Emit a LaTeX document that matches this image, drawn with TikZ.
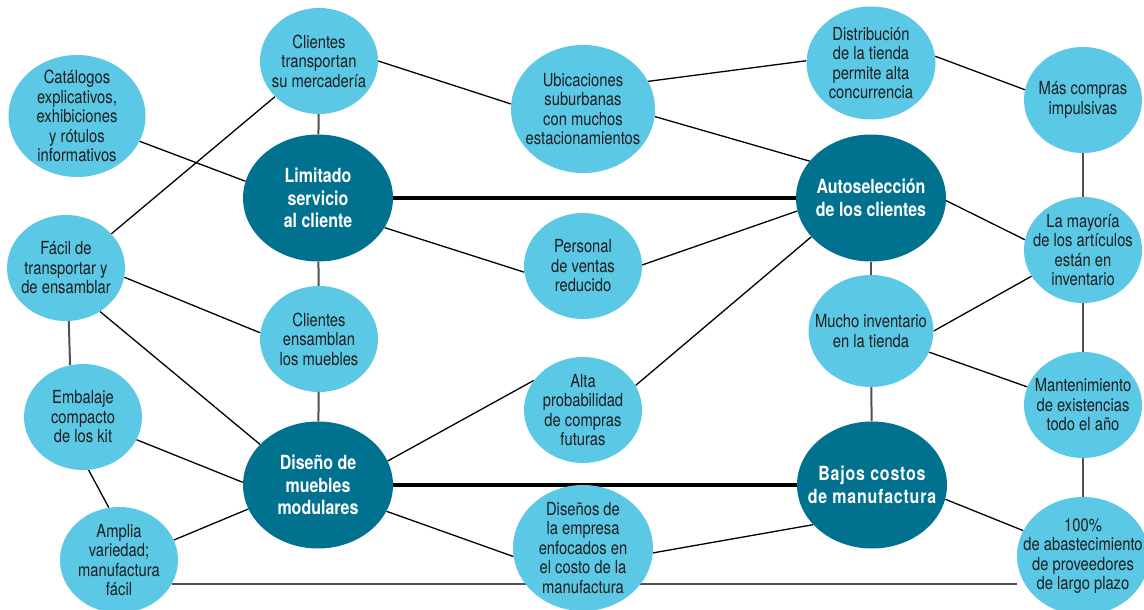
\documentclass[tikz,border=0pt]{standalone}
\usepackage{fontspec}
\setmainfont{TeX Gyre Heros}[FakeStretch=0.82]
\usepackage{tikz}
\usetikzlibrary{shapes}
\usetikzlibrary{backgrounds}
\definecolor{bubblefill}{RGB}{91,200,230}
\definecolor{hubfill}{RGB}{0,113,143}
\definecolor{ink}{RGB}{30,30,30}
\definecolor{stemgray}{RGB}{80,80,80}
\tikzset{
  bubble/.style={
    ellipse,fill=bubblefill,text=ink,align=center,
    inner xsep=-18pt,inner ysep=-12pt,
    minimum width=118pt,minimum height=106pt,
    font=\fontsize{18pt}{19.5pt}\selectfont,
  },
  hub/.style={
    ellipse,fill=hubfill,text=white,align=center,
    inner xsep=-18pt,inner ysep=-12pt,
    minimum width=150pt,minimum height=127pt,
    font=\bfseries\fontsize{19.5pt}{22.5pt}\selectfont,
  },
  link/.style={draw=black,line width=1.3pt},
  stemline/.style={draw=stemgray,line width=2pt},
  trunk/.style={draw=black,line width=4pt},
}

\begin{document}
\begin{tikzpicture}[x=1pt,y=-1pt]
    \useasboundingbox (0,0) rectangle (1144,610);
    % left column
    \node[bubble,minimum width=137pt,minimum height=122pt] (catalogos) at (77,116)
        {Catálogos\\explicativos,\\exhibiciones\\y rótulos\\informativos};
    \node[bubble] (facil) at (66,268) {Fácil de\\transportar y\\de ensamblar};
    \node[bubble] (embalaje) at (83,417) {Embalaje\\compacto\\de los kit};
    \node[bubble] (amplia) at (119,560) {Amplia\\variedad;\\manufactura\\fácil};
    % second column
    \node[bubble] (transportan) at (319,61) {Clientes\\transportan\\su mercadería};
    \node[hub] (limitado) at (318,198) {Limitado\\servicio\\al cliente};
    \node[bubble] (ensamblan) at (319,339) {Clientes\\ensamblan\\los muebles};
    \node[hub] (modulares) at (318,485) {Diseño de\\muebles\\modulares};
    % middle column
    \node[bubble,minimum width=144pt,minimum height=128pt] (ubicaciones) at (583,109)
        {Ubicaciones\\suburbanas\\con muchos\\estacionamientos};
    \node[bubble] (personal) at (583,266) {Personal\\de ventas\\reducido};
    \node[bubble] (futuras) at (583,410) {Alta\\probabilidad\\de compras\\futuras};
    \node[bubble,minimum width=140pt,minimum height=126pt] (enfocados) at (583,548)
        {Diseños de\\la empresa\\enfocados en\\el costo de la\\manufactura};
    % fourth column
    \node[bubble,minimum width=129pt,minimum height=113pt] (distribucion) at (871,63)
        {Distribución\\de la tienda\\permite alta\\concurrencia};
    \node[hub] (autoseleccion) at (871,198) {Autoselección\\de los clientes};
    \node[bubble,minimum width=125pt,minimum height=112pt] (inventario) at (871,331)
        {Mucho inventario\\en la tienda};
    \node[hub,font=\bfseries\fontsize{19.5pt}{22.5pt}\selectfont\addfontfeature{LetterSpace=4}]
        (costos) at (872,485) {Bajos costos\\de manufactura};
    % right column
    \node[bubble] (impulsivas) at (1083,100) {Más compras\\impulsivas};
    \node[bubble] (mayoria) at (1083,250) {La mayoría\\de los artículos\\están en\\inventario};
    \node[bubble] (existencias) at (1083,405) {Mantenimiento\\de existencias\\todo el año};
    \node[bubble,minimum width=132pt,minimum height=118pt] (proveedores) at (1083,556)
        {100\%\\de abastecimiento\\de proveedores\\de largo plazo};
    % connections
    \begin{scope}[on background layer]
        \draw[trunk] (limitado) -- (autoseleccion);
        \draw[trunk] (modulares) -- (costos);
        \draw[stemline] (transportan) -- (limitado);
        \draw[stemline] (limitado) -- (ensamblan);
        \draw[stemline] (modulares) -- (ensamblan);
        \draw[stemline] (impulsivas) -- (mayoria);
        \draw[stemline] (mayoria) -- (existencias);
        \draw[stemline] (existencias) -- (proveedores);
        \draw[stemline] (autoseleccion) -- (inventario);
        \draw[stemline] (inventario) -- (costos);
        \draw[stemline] (facil.-87) -- (embalaje.104);
        \draw[stemline] (amplia.-24) -- (amplia.-24 -| proveedores.west);
        \draw[link] (catalogos.-22) -- (limitado.167);
        \draw[link] (transportan.0) -- (ubicaciones.176);
        \draw[link] (facil.37) -- (transportan.-141);
        \draw[link] (limitado.-24) -- (personal.186);
        \draw[link] (ubicaciones.23) -- (distribucion.178);
        \draw[link] (ubicaciones.-6) -- (autoseleccion.149);
        \draw[link] (distribucion.6) -- (impulsivas.170);
        \draw[link] (autoseleccion.-2) -- (mayoria.170);
        \draw[link] (autoseleccion.190) -- (personal.1);
        \draw[link] (autoseleccion.213) -- (futuras.25);
        \draw[link] (inventario.0) -- (mayoria.207);
        \draw[link] (inventario.-20) -- (existencias.162);
        \draw[link] (costos.-11) -- (proveedores.157);
        \draw[link] (costos.214) -- (enfocados.-4);
        \draw[link] (modulares.-21) -- (enfocados.187);
        \draw[link] (modulares.19) -- (futuras.149);
        \draw[link] (modulares.145) -- (facil.-52);
        \draw[link] (modulares.178) -- (embalaje.-23);
        \draw[link] (modulares.199) -- (amplia.20);
        \draw[link] (facil.-9) -- (ensamblan.174);
        \draw[link] (embalaje.-84) -- (amplia.101);
    \end{scope}
\end{tikzpicture}
\end{document}
